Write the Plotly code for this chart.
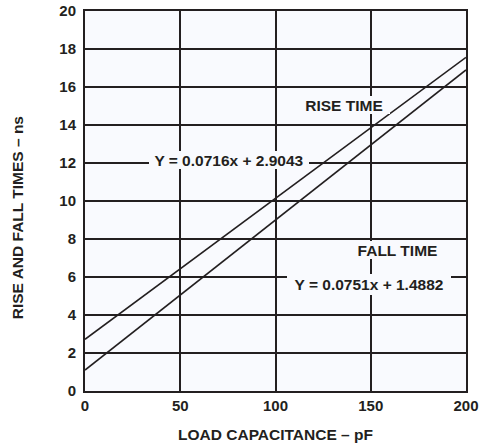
import plotly.graph_objects as go

# Load capacitance (pF) at the ends of each line, and the measured times (ns)
load_pf = [0, 200]
rise_ns = [2.72, 17.56]
fall_ns = [1.10, 16.90]

x_ticks = [0, 50, 100, 150, 200]
y_ticks = [0, 2, 4, 6, 8, 10, 12, 14, 16, 18, 20]

INK = "#231f20"
BG = "#f9fafe"
FONT = "Arial"

fig = go.Figure()
fig.add_trace(go.Scatter(x=load_pf, y=rise_ns, mode="lines",
                         line=dict(color=INK, width=1.6), name="RISE TIME",
                         showlegend=False, hoverinfo="skip"))
fig.add_trace(go.Scatter(x=load_pf, y=fall_ns, mode="lines",
                         line=dict(color=INK, width=1.6), name="FALL TIME",
                         showlegend=False, hoverinfo="skip"))

label_font = dict(family=FONT, size=15.5, color=INK, weight=700)


def label(text, x, y, w, h):
    fig.add_annotation(text=text, x=x, y=y, xref="x", yref="y",
                       showarrow=False, font=label_font, bgcolor=BG,
                       width=w, height=h, borderpad=0, borderwidth=0,
                       align="center", valign="middle")


label("Y = 0.0716x + 2.9043", 75.8, 12.16, 160, 18)
label("RISE TIME", 135.8, 15.05, 92, 18)
label("FALL TIME", 164, 7.42, 107, 18)
label("Y = 0.0751x + 1.4882", 149, 5.63, 164, 21)

# vertical axis title, placed in the left margin
fig.add_annotation(text="RISE AND FALL TIMES – ns", textangle=-90,
                   xref="paper", yref="paper", x=-0.178, y=0.455,
                   xanchor="center", yanchor="middle", showarrow=False,
                   font=dict(family=FONT, size=15.5, color=INK, weight=700))

axis_common = dict(showgrid=True, gridcolor=INK, gridwidth=2,
                   showline=True, linecolor=INK, linewidth=2, mirror=True,
                   zeroline=False, ticks="", automargin=False,
                   tickfont=dict(family=FONT, size=15, color=INK, weight=700))

fig.update_xaxes(range=[0, 200], tickvals=x_ticks,
                 title=dict(text="LOAD CAPACITANCE – pF", standoff=16,
                            font=dict(family=FONT, size=15.5, color=INK, weight=700)),
                 **axis_common)
fig.update_yaxes(range=[0, 20], tickvals=y_ticks, ticklabelstandoff=4,
                 **axis_common)

fig.update_layout(width=479, height=448,
                  margin=dict(l=85, r=13, t=11, b=57, autoexpand=False),
                  paper_bgcolor="white", plot_bgcolor=BG)

fig.write_html("out.html")
